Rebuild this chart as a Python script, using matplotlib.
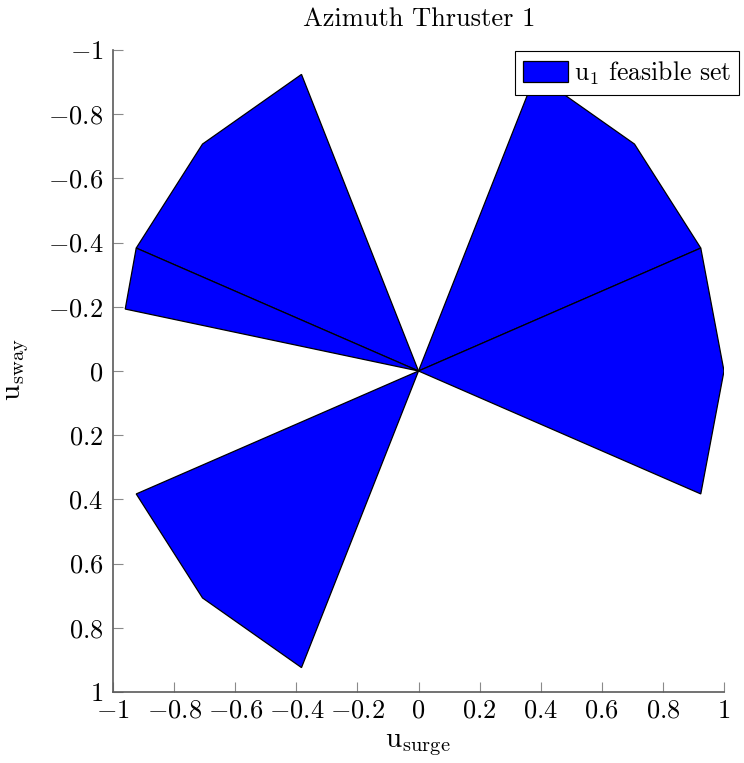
import matplotlib
matplotlib.use("Agg")
import matplotlib.pyplot as plt
from matplotlib.patches import Polygon

plt.rcParams['font.family'] = 'cmr10'
plt.rcParams['mathtext.fontset'] = 'cm'
plt.rcParams['axes.unicode_minus'] = False

# feasible sectors of the thruster, vertices (surge, sway)
sector_nw_x = [0, -0.383, -0.707, -0.924]
sector_nw_y = [0, -0.924, -0.707, -0.383]
sector_w_x = [0, -0.924, -0.96]
sector_w_y = [0, -0.383, -0.193]
sector_ne_x = [0, 0.383, 0.707, 0.924]
sector_ne_y = [0, -0.924, -0.707, -0.383]
sector_e_x = [0, 0.924, 1.0, 0.924]
sector_e_y = [0, -0.383, 0.0, 0.383]
sector_sw_x = [0, -0.924, -0.707, -0.383]
sector_sw_y = [0, 0.383, 0.707, 0.924]

ticks = [-1, -0.8, -0.6, -0.4, -0.2, 0, 0.2, 0.4, 0.6, 0.8, 1]
tick_labels = [r'$-1$', r'$-0.8$', r'$-0.6$', r'$-0.4$', r'$-0.2$', r'$0$',
               r'$0.2$', r'$0.4$', r'$0.6$', r'$0.8$', r'$1$']

fig = plt.figure(figsize=(7.44, 7.63), dpi=100)
ax = fig.add_axes([113/744, 1-692/763, (724-113)/744, (692-50)/763])

sectors = [(sector_nw_x, sector_nw_y), (sector_w_x, sector_w_y),
           (sector_ne_x, sector_ne_y), (sector_e_x, sector_e_y),
           (sector_sw_x, sector_sw_y)]
for i, (xs, ys) in enumerate(sectors):
    p = Polygon(list(zip(xs, ys)), closed=True, facecolor='#0000ff',
                edgecolor='black', linewidth=0.9,
                label=r'$\mathrm{u}_1$ feasible set' if i == 0 else None)
    ax.add_patch(p)

ax.set_xlim(-1, 1)
ax.set_ylim(1, -1)
ax.set_xticks(ticks)
ax.set_xticklabels(tick_labels)
ax.set_yticks(ticks)
ax.set_yticklabels(tick_labels)

for s in ['top', 'right']:
    ax.spines[s].set_visible(False)
for s in ['left', 'bottom']:
    ax.spines[s].set_color('#5a5a5a')
    ax.spines[s].set_linewidth(1.2)
ax.tick_params(direction='in', length=7, width=0.8, color='#8a8a8a',
               labelsize=19)
ax.tick_params(axis='x', pad=5)
ax.tick_params(axis='y', pad=7)

fig.text(419/744, 1-19/763, 'Azimuth Thruster 1', ha='center', va='center',
         fontsize=19)
fig.text(418/744, 1-745/763, r'$\mathrm{u}_{\mathrm{surge}}$', ha='center',
         va='center', fontsize=21)
fig.text(18/744, 1-370/763, r'$\mathrm{u}_{\mathrm{sway}}$', ha='center',
         va='center', rotation=90, fontsize=21)

leg = fig.legend(loc='upper left', bbox_to_anchor=(515/744, 1-51/763),
                 fontsize=18.5, frameon=True, fancybox=False,
                 handlelength=1.75, handleheight=0.9, handletextpad=0.22,
                 borderpad=0.32, borderaxespad=0)
leg.get_frame().set_edgecolor('black')
leg.get_frame().set_linewidth(0.8)
leg.get_frame().set_alpha(1)

fig.savefig('out.png', dpi=100)
